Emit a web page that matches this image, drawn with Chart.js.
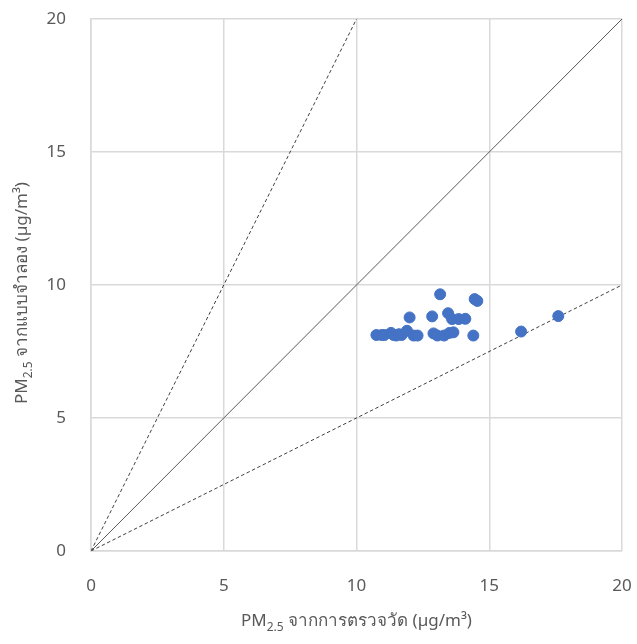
<!DOCTYPE html>
<html>
<head>
<meta charset="utf-8">
<script src="https://cdn.jsdelivr.net/npm/chart.js@4.4.1/dist/chart.umd.min.js"></script>
<style>
  html, body { margin: 0; padding: 0; background: #ffffff; }
  #wrap { width: 637px; height: 644px; position: relative; }
</style>
</head>
<body>
<div id="wrap"><canvas id="chart" width="637" height="644"></canvas></div>
<script>
// Measured vs. modelled PM2.5 (µg/m³)
const measured = [10.75, 10.95, 11.05, 11.3, 11.4, 11.5, 11.6, 11.7, 11.9, 12.15, 12.3, 12.0,
                  12.85, 12.9, 13.05, 13.15, 13.3, 13.45, 13.5, 13.6, 13.65, 13.85, 14.1, 14.4,
                  14.45, 14.55, 16.2, 17.6];
const modelled = [8.12, 8.12, 8.12, 8.2, 8.12, 8.1, 8.15, 8.12, 8.28, 8.1, 8.1, 8.78,
                  8.82, 8.18, 8.1, 9.65, 8.1, 8.94, 8.2, 8.72, 8.22, 8.72, 8.73, 8.1,
                  9.47, 9.4, 8.25, 8.83];

// Reference lines: 1:1, 2:1 and 1:2
const lineOneToOne = [{x: 0, y: 0}, {x: 20, y: 20}];
const lineTwoToOne = [{x: 0, y: 0}, {x: 10, y: 20}];
const lineOneToTwo = [{x: 0, y: 0}, {x: 20, y: 10}];

const axisTicks = [0, 5, 10, 15, 20];

const xTitleParts = ['PM', '2.5', ' จากการตรวจวัด (µg/m³)'];
const yTitleParts = ['PM', '2.5', ' จากแบบจำลอง (µg/m³)'];

const FONT = '"Noto Sans", "Liberation Sans", sans-serif';
const TEXT = '#595959';
const GRID = '#d9d9d9';

// Draws an axis title with a subscripted middle part
function drawSubTitle(ctx, parts, cx, baseY, size) {
  const main = size + 'px ' + FONT;
  const sub = Math.round(size * 0.68) + 'px ' + FONT;
  ctx.font = main; const w0 = ctx.measureText(parts[0]).width;
  ctx.font = sub;  const w1 = ctx.measureText(parts[1]).width;
  ctx.font = main; const w2 = ctx.measureText(parts[2]).width;
  let x = cx - (w0 + w1 + w2) / 2;
  ctx.fillStyle = TEXT;
  ctx.textBaseline = 'alphabetic';
  ctx.textAlign = 'left';
  ctx.font = main; ctx.fillText(parts[0], x, baseY); x += w0;
  ctx.font = sub;  ctx.fillText(parts[1], x, baseY + size * 0.28); x += w1;
  ctx.font = main; ctx.fillText(parts[2], x, baseY);
}

const axisTitles = {
  id: 'axisTitles',
  afterDraw(chart) {
    const ctx = chart.ctx;
    const a = chart.chartArea;
    ctx.save();
    drawSubTitle(ctx, xTitleParts, (a.left + a.right) / 2, 626, 17);
    ctx.translate(27, (a.top + a.bottom) / 2 + 8);
    ctx.rotate(-Math.PI / 2);
    drawSubTitle(ctx, yTitleParts, 0, 0, 17);
    ctx.restore();
  }
};

// Keep tick labels from pushing the plot area inwards
function noLabelPadding(scale) {
  scale.paddingLeft = 0;
  scale.paddingRight = 0;
  scale.paddingTop = 0;
  scale.paddingBottom = 0;
}

const points = measured.map((v, i) => ({x: v, y: modelled[i]}));

new Chart(document.getElementById('chart'), {
  type: 'scatter',
  data: {
    datasets: [
      {
        label: 'PM2.5',
        data: points,
        backgroundColor: '#4472C4',
        borderColor: '#4472C4',
        pointRadius: 5.5,
        pointHoverRadius: 5.5,
        order: 0
      },
      {
        label: '1:1',
        data: lineOneToOne,
        showLine: true,
        borderColor: '#595959',
        borderWidth: 1,
        pointRadius: 0,
        order: 1
      },
      {
        label: '2:1',
        data: lineTwoToOne,
        showLine: true,
        borderColor: '#404040',
        borderWidth: 1,
        borderDash: [3.5, 2.5],
        pointRadius: 0,
        order: 1
      },
      {
        label: '1:2',
        data: lineOneToTwo,
        showLine: true,
        borderColor: '#404040',
        borderWidth: 1,
        borderDash: [3.5, 2.5],
        pointRadius: 0,
        order: 1
      }
    ]
  },
  options: {
    responsive: false,
    animation: false,
    devicePixelRatio: 1,
    layout: { padding: { top: 19, right: 15, left: 0, bottom: 0 } },
    plugins: {
      legend: { display: false },
      tooltip: { enabled: false },
      title: { display: false }
    },
    scales: {
      x: {
        type: 'linear',
        min: 0, max: 20,
        afterBuildTicks(scale) { scale.ticks = axisTicks.map(v => ({value: v})); },
        afterFit(scale) { scale.height = 93; noLabelPadding(scale); },
        grid: { color: GRID, lineWidth: 1.5, drawTicks: false },
        border: { color: GRID, width: 1.5 },
        ticks: { color: TEXT, font: { family: FONT, size: 17 }, padding: 25, maxRotation: 0 }
      },
      y: {
        type: 'linear',
        min: 0, max: 20,
        afterBuildTicks(scale) { scale.ticks = axisTicks.map(v => ({value: v})); },
        afterFit(scale) { scale.width = 91; noLabelPadding(scale); },
        grid: { color: GRID, lineWidth: 1.5, drawTicks: false },
        border: { color: GRID, width: 1.5 },
        ticks: { color: TEXT, font: { family: FONT, size: 17 }, padding: 25 }
      }
    }
  },
  plugins: [axisTitles]
});
</script>
</body>
</html>
